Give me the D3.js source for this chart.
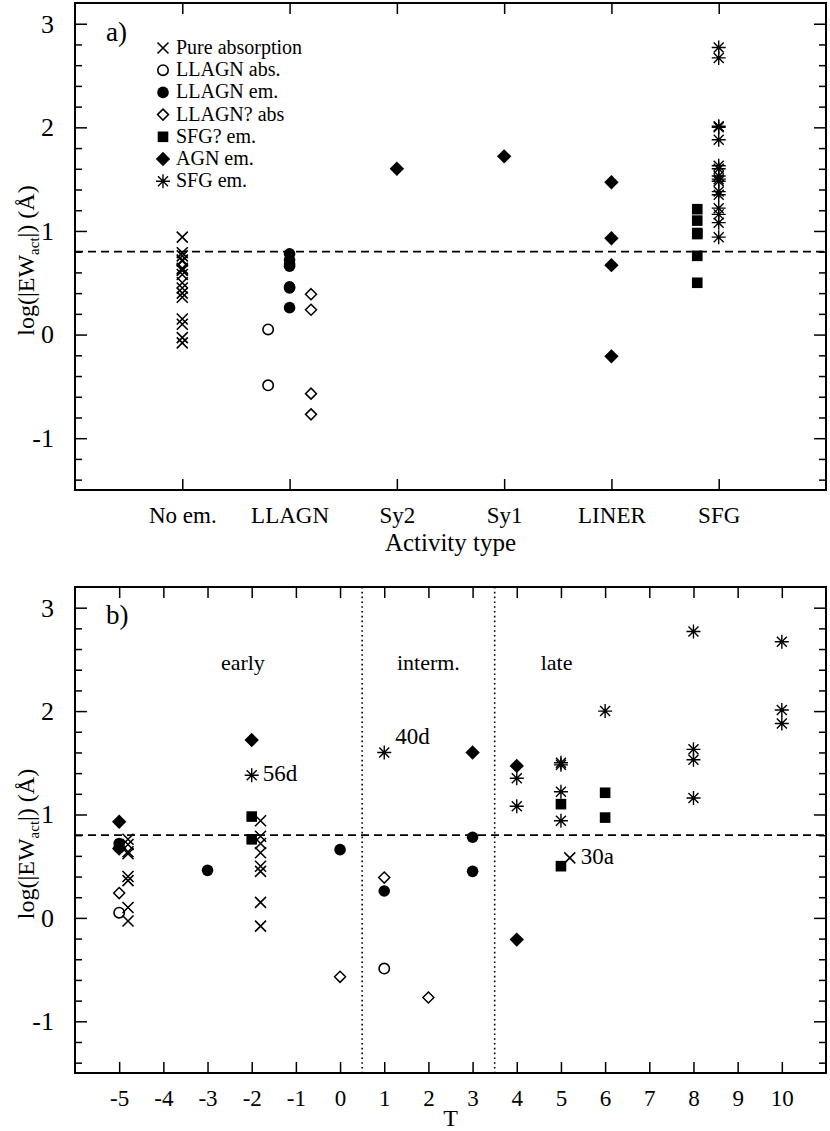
<!DOCTYPE html>
<html>
<head>
<meta charset="utf-8">
<script src="https://cdn.jsdelivr.net/npm/d3@7/dist/d3.min.js"></script>
<style>
  body { margin: 0; background: #fff; }
  text { font-family: "Liberation Serif", "Times New Roman", serif; fill: #000; }
</style>
</head>
<body>
<div id="chart"></div>
<script>
// ---- data ----
const activityTypes = ["No em.", "LLAGN", "Sy2", "Sy1", "LINER", "SFG"];
const tTicks = [-5, -4, -3, -2, -1, 0, 1, 2, 3, 4, 5, 6, 7, 8, 9, 10];
const yTicks = [-1, 0, 1, 2, 3];

// panel a: [activity type, log|EW|]
const aPureAbs = [["No em.", 0.94], ["No em.", 0.79], ["No em.", 0.76], ["No em.", 0.72], ["No em.", 0.71],
    ["No em.", 0.64], ["No em.", 0.63], ["No em.", 0.62], ["No em.", 0.58], ["No em.", 0.50], ["No em.", 0.45],
    ["No em.", 0.40], ["No em.", 0.36], ["No em.", 0.15], ["No em.", 0.10], ["No em.", -0.03], ["No em.", -0.08]];
const aLlagnAbs = [["LLAGN", 0.05], ["LLAGN", -0.49]];
const aLlagnEm = [["LLAGN", 0.78], ["LLAGN", 0.72], ["LLAGN", 0.68], ["LLAGN", 0.66], ["LLAGN", 0.46],
    ["LLAGN", 0.45], ["LLAGN", 0.26]];
const aLlagnQAbs = [["LLAGN", 0.39], ["LLAGN", 0.24], ["LLAGN", -0.57], ["LLAGN", -0.77]];
const aSfgQEm = [["SFG", 1.21], ["SFG", 1.10], ["SFG", 0.98], ["SFG", 0.97], ["SFG", 0.76], ["SFG", 0.50]];
const aAgnEm = [["Sy2", 1.60], ["Sy1", 1.72], ["LINER", 1.47], ["LINER", 0.93], ["LINER", 0.67], ["LINER", -0.21]];
const aSfgEm = [["SFG", 2.77], ["SFG", 2.67], ["SFG", 2.01], ["SFG", 2.00], ["SFG", 1.88], ["SFG", 1.63],
    ["SFG", 1.60], ["SFG", 1.53], ["SFG", 1.50], ["SFG", 1.48], ["SFG", 1.38], ["SFG", 1.35], ["SFG", 1.22],
    ["SFG", 1.16], ["SFG", 1.08], ["SFG", 0.94]];

// panel b: [T, log|EW|]
const bPureAbs = [[-5, 0.76], [-5, 0.71], [-5, 0.64], [-5, 0.62], [-5, 0.40], [-5, 0.36], [-5, 0.10], [-5, -0.03],
    [-2, 0.94], [-2, 0.79], [-2, 0.72], [-2, 0.63], [-2, 0.50], [-2, 0.45], [-2, 0.15], [-2, -0.08], [5, 0.58]];
const bLlagnAbs = [[-5, 0.05], [1, -0.49]];
const bLlagnEm = [[-5, 0.72], [-5, 0.68], [-3, 0.46], [0, 0.66], [1, 0.26], [3, 0.78], [3, 0.45]];
const bLlagnQAbs = [[-5, 0.24], [0, -0.57], [1, 0.39], [2, -0.77]];
const bSfgQEm = [[-2, 0.98], [-2, 0.76], [5, 1.10], [5, 0.50], [6, 1.21], [6, 0.97]];
const bAgnEm = [[-5, 0.93], [-5, 0.67], [-2, 1.72], [3, 1.60], [4, 1.47], [4, -0.21]];
const bSfgEm = [[-2, 1.38], [1, 1.60], [4, 1.35], [4, 1.08], [5, 1.50], [5, 1.48], [5, 1.22], [5, 0.94],
    [6, 2.00], [8, 2.77], [8, 1.63], [8, 1.53], [8, 1.16], [10, 2.67], [10, 2.01], [10, 1.88]];

const legendItems = [["cross", "Pure absorption"], ["circle", "LLAGN abs."], ["dot", "LLAGN em."],
    ["diamondOpen", "LLAGN? abs"], ["square", "SFG? em."], ["diamond", "AGN em."], ["star", "SFG em."]];
const pointLabels = [[-2, 1.38, "56d"], [1, 1.60, "40d"], [5.2, 0.58, "30a"]];
const regions = [[-2.2, "early"], [2.0, "interm."], [4.9, "late"]];
const regionBounds = [0.5, 3.5];
const threshold = 0.8;

// ---- layout ----
const width = 830, height = 1131;
const left = 75, right = 826;
const svg = d3.select("#chart").append("svg")
    .attr("width", width)
    .attr("height", height);

const fmt = d => String(d);   // plain hyphen for negatives, like the original

function drawSymbol(g, kind, x, y) {
    if (kind === "cross") {
        const s = 5.5;
        g.append("path").attr("d", `M${x - s},${y - s}L${x + s},${y + s}M${x - s},${y + s}L${x + s},${y - s}`)
            .attr("stroke", "#000").attr("stroke-width", 1.6).attr("fill", "none");
    } else if (kind === "circle") {
        g.append("circle").attr("cx", x).attr("cy", y).attr("r", 5.2)
            .attr("fill", "none").attr("stroke", "#000").attr("stroke-width", 1.6);
    } else if (kind === "dot") {
        g.append("circle").attr("cx", x).attr("cy", y).attr("r", 5.8).attr("fill", "#000");
    } else if (kind === "diamondOpen") {
        const s = 5.5;
        g.append("path").attr("d", `M${x},${y - s}L${x + s},${y}L${x},${y + s}L${x - s},${y}Z`)
            .attr("fill", "none").attr("stroke", "#000").attr("stroke-width", 1.5);
    } else if (kind === "square") {
        g.append("rect").attr("x", x - 5.3).attr("y", y - 5.3).attr("width", 10.6).attr("height", 10.6)
            .attr("fill", "#000");
    } else if (kind === "diamond") {
        const s = 7.2;
        g.append("path").attr("d", `M${x},${y - s}L${x + s},${y}L${x},${y + s}L${x - s},${y}Z`).attr("fill", "#000");
    } else if (kind === "star") {
        const s = 7, d = 5;
        g.append("path")
            .attr("d", `M${x - s},${y}L${x + s},${y}M${x},${y - s}L${x},${y + s}` +
                `M${x - d},${y - d}L${x + d},${y + d}M${x - d},${y + d}L${x + d},${y - d}`)
            .attr("stroke", "#000").attr("stroke-width", 1.4).attr("fill", "none");
    }
}

function drawFrame(g, x, y, top, bottom, xTickValues, xLabels) {
    const minor = d3.range(-1.4, 3.2, 0.2).filter(v => Math.abs(v - Math.round(v)) > 0.01);

    // x ticks bottom with labels, top without
    g.append("g").attr("transform", `translate(0,${bottom})`)
        .call(d3.axisBottom(x).tickValues(xTickValues).tickSizeInner(-11).tickSizeOuter(0)
            .tickPadding(17).tickFormat(xLabels))
        .call(a => a.select(".domain").remove())
        .call(a => a.selectAll("line").attr("stroke-width", 1.5))
        .call(a => a.selectAll("text").style("font-family", "Liberation Serif").style("font-size", "23px"));
    g.append("g").attr("transform", `translate(0,${top})`)
        .call(d3.axisTop(x).tickValues(xTickValues).tickSizeInner(-11).tickSizeOuter(0).tickFormat(""))
        .call(a => a.select(".domain").remove())
        .call(a => a.selectAll("line").attr("stroke-width", 1.5));

    // y ticks, left with labels, right mirrored
    g.append("g").attr("transform", `translate(${left},0)`)
        .call(d3.axisLeft(y).tickValues(yTicks).tickSizeInner(-12).tickSizeOuter(0).tickPadding(21)
            .tickFormat(fmt))
        .call(a => a.select(".domain").remove())
        .call(a => a.selectAll("line").attr("stroke-width", 1.5))
        .call(a => a.selectAll("text").style("font-family", "Liberation Serif").style("font-size", "26px"));
    g.append("g").attr("transform", `translate(${left},0)`)
        .call(d3.axisLeft(y).tickValues(minor).tickSizeInner(-7).tickSizeOuter(0).tickFormat(""))
        .call(a => a.select(".domain").remove())
        .call(a => a.selectAll("line").attr("stroke-width", 1.5));
    g.append("g").attr("transform", `translate(${right},0)`)
        .call(d3.axisRight(y).tickValues(yTicks).tickSizeInner(-12).tickSizeOuter(0).tickFormat(""))
        .call(a => a.select(".domain").remove())
        .call(a => a.selectAll("line").attr("stroke-width", 1.5));
    g.append("g").attr("transform", `translate(${right},0)`)
        .call(d3.axisRight(y).tickValues(minor).tickSizeInner(-7).tickSizeOuter(0).tickFormat(""))
        .call(a => a.select(".domain").remove())
        .call(a => a.selectAll("line").attr("stroke-width", 1.5));

    g.append("rect")
        .attr("x", left).attr("y", top)
        .attr("width", right - left).attr("height", bottom - top)
        .attr("fill", "none").attr("stroke", "#000").attr("stroke-width", 2);

    // threshold line
    g.append("line")
        .attr("x1", left).attr("x2", right)
        .attr("y1", y(threshold)).attr("y2", y(threshold))
        .attr("stroke", "#000").attr("stroke-width", 1.8).attr("stroke-dasharray", "8,5");

    // y axis title
    const t = g.append("text")
        .attr("transform", `translate(34,${(top + bottom) / 2 + 14}) rotate(-90)`)
        .attr("text-anchor", "middle")
        .style("font-size", "24px");
    t.append("tspan").text("log(|EW");
    t.append("tspan").attr("dy", 5).style("font-size", "15px").text("act");
    t.append("tspan").attr("dy", -5).text("|) (Å)");
}

// ---- panel a ----
const topA = 3, bottomA = 490;
const xa = d3.scaleLinear().domain([0, 7]).range([left, right]);
const ya = d3.scaleLinear().domain([-1.5, 3.2]).range([bottomA, topA]);
const gA = svg.append("g");
drawFrame(gA, xa, ya, topA, bottomA, [1, 2, 3, 4, 5, 6], d => activityTypes[d - 1]);

gA.append("text")
    .attr("x", (left + right) / 2).attr("y", bottomA + 61)
    .attr("text-anchor", "middle").style("font-size", "25px")
    .text("Activity type");
gA.append("text").attr("x", 106).attr("y", topA + 38).style("font-size", "27px").text("a)");

const catX = c => activityTypes.indexOf(c) + 1;
const seriesA = [
    [aPureAbs, "cross", 0], [aLlagnAbs, "circle", -0.2], [aLlagnEm, "dot", 0], [aLlagnQAbs, "diamondOpen", 0.2],
    [aSfgQEm, "square", -0.2], [aAgnEm, "diamond", 0], [aSfgEm, "star", 0]
];
seriesA.forEach(([data, kind, off]) => {
    data.forEach(d => drawSymbol(gA, kind, xa(catX(d[0]) + off), ya(d[1])));
});

// legend
const legend = gA.append("g");
legendItems.forEach((d, i) => {
    const ly = 48 + i * 22.2;
    drawSymbol(legend, d[0], 163, ly);
    legend.append("text").attr("x", 176).attr("y", ly + 6).style("font-size", "20px").text(d[1]);
});

// ---- panel b ----
const topB = 587, bottomB = 1073;
const xb = d3.scaleLinear().domain([-6, 11]).range([left, right]);
const yb = d3.scaleLinear().domain([-1.5, 3.2]).range([bottomB, topB]);
const gB = svg.append("g");
drawFrame(gB, xb, yb, topB, bottomB, tTicks, fmt);

regionBounds.forEach(v => {
    gB.append("line")
        .attr("x1", xb(v)).attr("x2", xb(v))
        .attr("y1", topB).attr("y2", bottomB)
        .attr("stroke", "#000").attr("stroke-width", 1.6).attr("stroke-dasharray", "1.6,3.2");
});

gB.append("text")
    .attr("x", (left + right) / 2).attr("y", 1126)
    .attr("text-anchor", "middle").style("font-size", "24px")
    .text("T");
gB.append("text").attr("x", 106).attr("y", topB + 37).style("font-size", "27px").text("b)");

regions.forEach(d => {
    gB.append("text")
        .attr("x", xb(d[0])).attr("y", yb(2.4))
        .attr("text-anchor", "middle").style("font-size", "22px")
        .text(d[1]);
});

const seriesB = [
    [bPureAbs, "cross", 0.2], [bLlagnAbs, "circle", 0], [bLlagnEm, "dot", 0], [bLlagnQAbs, "diamondOpen", 0],
    [bSfgQEm, "square", 0], [bAgnEm, "diamond", 0], [bSfgEm, "star", 0]
];
seriesB.forEach(([data, kind, off]) => {
    data.forEach(d => drawSymbol(gB, kind, xb(d[0] + off), yb(d[1])));
});

pointLabels.forEach(d => {
    gB.append("text")
        .attr("x", xb(d[0]) + 11).attr("y", yb(d[1]) + (d[2] === "40d" ? -8 : 6))
        .style("font-size", "23px")
        .text(d[2]);
});
</script>
</body>
</html>
